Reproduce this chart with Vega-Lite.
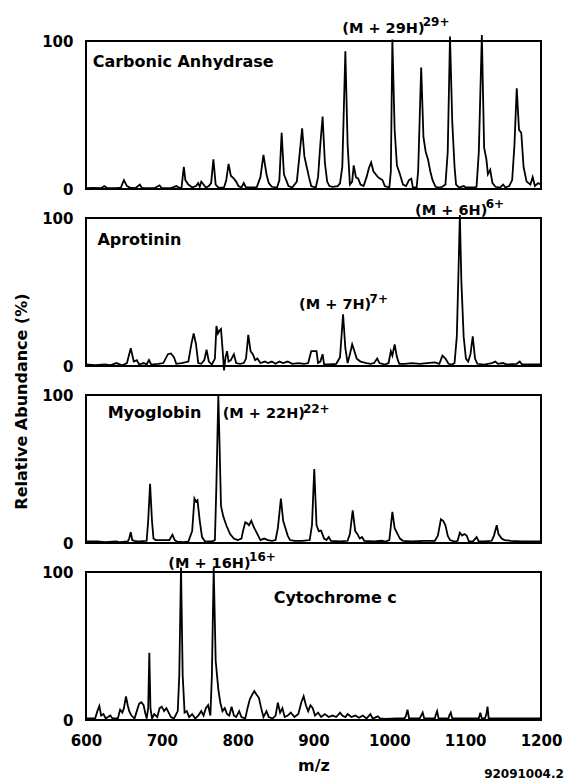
{
  "$schema": "https://vega.github.io/schema/vega-lite/v6.json",
  "padding": {"left": 12, "top": 15, "right": 0, "bottom": 0},
  "background": "white",
  "spacing": 29,
  "bounds": "flush",
  "datasets": {
    "ca": [
      {"mz":600,"ab":0.5},{"mz":610,"ab":0.8},{"mz":620,"ab":0.5},{"mz":624,"ab":2},{"mz":628,"ab":0.6},{"mz":640,"ab":0.5},{"mz":646,"ab":1},{"mz":650,"ab":6},{"mz":654,"ab":2},{"mz":658,"ab":1},{"mz":665,"ab":0.5},{"mz":671,"ab":3},{"mz":674,"ab":0.5},{"mz":690,"ab":0.5},{"mz":697,"ab":2.5},{"mz":700,"ab":0.5},{"mz":712,"ab":0.6},{"mz":719,"ab":2},{"mz":723,"ab":0.8},{"mz":726,"ab":1},{"mz":729,"ab":15},{"mz":731,"ab":6},{"mz":735,"ab":3},{"mz":740,"ab":1},{"mz":745,"ab":2},{"mz":748,"ab":4},{"mz":750,"ab":1.5},{"mz":752,"ab":5},{"mz":755,"ab":3},{"mz":758,"ab":1},{"mz":762,"ab":2},{"mz":765,"ab":4},{"mz":768,"ab":20},{"mz":771,"ab":3},{"mz":775,"ab":0.8},{"mz":782,"ab":1},{"mz":785,"ab":6},{"mz":788,"ab":17},{"mz":791,"ab":9},{"mz":795,"ab":7},{"mz":798,"ab":5},{"mz":801,"ab":2},{"mz":805,"ab":1},{"mz":808,"ab":4},{"mz":811,"ab":1},{"mz":825,"ab":1},{"mz":830,"ab":8},{"mz":834,"ab":23},{"mz":838,"ab":10},{"mz":841,"ab":4},{"mz":845,"ab":1.5},{"mz":852,"ab":1},{"mz":855,"ab":6},{"mz":858,"ab":38},{"mz":861,"ab":10},{"mz":864,"ab":6},{"mz":867,"ab":2},{"mz":872,"ab":1},{"mz":878,"ab":5},{"mz":881,"ab":20},{"mz":885,"ab":41},{"mz":888,"ab":22},{"mz":891,"ab":15},{"mz":894,"ab":8},{"mz":897,"ab":2},{"mz":903,"ab":1},{"mz":906,"ab":8},{"mz":909,"ab":30},{"mz":912,"ab":49},{"mz":915,"ab":18},{"mz":918,"ab":5},{"mz":921,"ab":2},{"mz":925,"ab":1.5},{"mz":932,"ab":2},{"mz":935,"ab":4},{"mz":938,"ab":15},{"mz":942,"ab":93},{"mz":945,"ab":30},{"mz":948,"ab":3},{"mz":951,"ab":5},{"mz":953,"ab":16},{"mz":956,"ab":8},{"mz":959,"ab":7},{"mz":962,"ab":3},{"mz":966,"ab":2},{"mz":970,"ab":8},{"mz":973,"ab":14},{"mz":976,"ab":18},{"mz":979,"ab":12},{"mz":982,"ab":10},{"mz":985,"ab":8},{"mz":988,"ab":7},{"mz":991,"ab":6},{"mz":994,"ab":2},{"mz":1000,"ab":1},{"mz":1002,"ab":12},{"mz":1004,"ab":101},{"mz":1007,"ab":40},{"mz":1010,"ab":16},{"mz":1014,"ab":10},{"mz":1018,"ab":3},{"mz":1022,"ab":2},{"mz":1026,"ab":6},{"mz":1029,"ab":7},{"mz":1031,"ab":1},{"mz":1036,"ab":1},{"mz":1038,"ab":12},{"mz":1042,"ab":82},{"mz":1045,"ab":35},{"mz":1048,"ab":25},{"mz":1051,"ab":20},{"mz":1054,"ab":12},{"mz":1057,"ab":6},{"mz":1061,"ab":1.5},{"mz":1066,"ab":1},{"mz":1070,"ab":1.5},{"mz":1074,"ab":3},{"mz":1077,"ab":25},{"mz":1080,"ab":103},{"mz":1083,"ab":45},{"mz":1086,"ab":15},{"mz":1088,"ab":3},{"mz":1092,"ab":1},{"mz":1098,"ab":2},{"mz":1101,"ab":1},{"mz":1110,"ab":1},{"mz":1115,"ab":1.5},{"mz":1118,"ab":25},{"mz":1122,"ab":104},{"mz":1125,"ab":28},{"mz":1128,"ab":20},{"mz":1130,"ab":10},{"mz":1133,"ab":13},{"mz":1136,"ab":4},{"mz":1140,"ab":1.5},{"mz":1146,"ab":1},{"mz":1150,"ab":3},{"mz":1153,"ab":1},{"mz":1158,"ab":2},{"mz":1162,"ab":6},{"mz":1165,"ab":30},{"mz":1168,"ab":68},{"mz":1171,"ab":40},{"mz":1174,"ab":38},{"mz":1177,"ab":15},{"mz":1181,"ab":5},{"mz":1186,"ab":3},{"mz":1189,"ab":8},{"mz":1192,"ab":2},{"mz":1196,"ab":4},{"mz":1200,"ab":3}
    ],
    "ap": [
      {"mz":600,"ab":1},{"mz":612,"ab":0.5},{"mz":625,"ab":1},{"mz":632,"ab":0.5},{"mz":640,"ab":2},{"mz":648,"ab":0.5},{"mz":654,"ab":2},{"mz":659,"ab":12},{"mz":663,"ab":3},{"mz":667,"ab":4},{"mz":670,"ab":1},{"mz":676,"ab":2},{"mz":680,"ab":1},{"mz":683,"ab":4},{"mz":686,"ab":1},{"mz":695,"ab":1.5},{"mz":702,"ab":2},{"mz":708,"ab":8},{"mz":712,"ab":8.5},{"mz":716,"ab":6},{"mz":719,"ab":1.5},{"mz":726,"ab":2},{"mz":735,"ab":3},{"mz":739,"ab":15},{"mz":742,"ab":22},{"mz":745,"ab":15},{"mz":748,"ab":2},{"mz":752,"ab":1.5},{"mz":756,"ab":4},{"mz":759,"ab":11},{"mz":762,"ab":3},{"mz":766,"ab":1},{"mz":770,"ab":5},{"mz":772,"ab":27},{"mz":774,"ab":22},{"mz":776,"ab":24},{"mz":778,"ab":25},{"mz":780,"ab":12},{"mz":782,"ab":-3},{"mz":784,"ab":6},{"mz":786,"ab":10},{"mz":788,"ab":3},{"mz":791,"ab":4},{"mz":795,"ab":8},{"mz":798,"ab":2},{"mz":803,"ab":1.5},{"mz":808,"ab":2},{"mz":811,"ab":5},{"mz":814,"ab":21},{"mz":817,"ab":10},{"mz":820,"ab":8},{"mz":823,"ab":4},{"mz":826,"ab":5},{"mz":830,"ab":2},{"mz":836,"ab":3},{"mz":840,"ab":2},{"mz":845,"ab":3},{"mz":850,"ab":1.5},{"mz":855,"ab":3},{"mz":860,"ab":2},{"mz":866,"ab":3},{"mz":872,"ab":1.5},{"mz":880,"ab":2},{"mz":888,"ab":1.5},{"mz":893,"ab":2},{"mz":897,"ab":10},{"mz":901,"ab":10},{"mz":904,"ab":10},{"mz":906,"ab":2},{"mz":909,"ab":3},{"mz":912,"ab":8},{"mz":914,"ab":1},{"mz":920,"ab":1},{"mz":930,"ab":1.5},{"mz":935,"ab":6},{"mz":939,"ab":35},{"mz":942,"ab":12},{"mz":945,"ab":2},{"mz":948,"ab":8},{"mz":951,"ab":14.6},{"mz":954,"ab":10},{"mz":957,"ab":5},{"mz":962,"ab":3},{"mz":966,"ab":2.5},{"mz":970,"ab":2},{"mz":975,"ab":1.5},{"mz":980,"ab":2},{"mz":984,"ab":5},{"mz":987,"ab":2},{"mz":994,"ab":1},{"mz":999,"ab":2},{"mz":1002,"ab":10},{"mz":1004,"ab":7},{"mz":1007,"ab":14.6},{"mz":1010,"ab":6},{"mz":1013,"ab":1.5},{"mz":1020,"ab":1.5},{"mz":1030,"ab":2},{"mz":1040,"ab":1.5},{"mz":1050,"ab":2},{"mz":1060,"ab":2.5},{"mz":1066,"ab":1.5},{"mz":1070,"ab":7},{"mz":1074,"ab":5},{"mz":1078,"ab":1.5},{"mz":1083,"ab":1},{"mz":1086,"ab":2},{"mz":1089,"ab":20},{"mz":1091,"ab":60},{"mz":1093,"ab":102},{"mz":1095,"ab":57},{"mz":1098,"ab":20},{"mz":1101,"ab":5},{"mz":1104,"ab":3},{"mz":1107,"ab":8},{"mz":1110,"ab":20},{"mz":1113,"ab":5},{"mz":1116,"ab":1.5},{"mz":1125,"ab":1},{"mz":1135,"ab":2},{"mz":1140,"ab":3},{"mz":1143,"ab":1.5},{"mz":1150,"ab":2},{"mz":1155,"ab":1},{"mz":1168,"ab":1.5},{"mz":1172,"ab":3},{"mz":1175,"ab":1},{"mz":1190,"ab":1},{"mz":1200,"ab":1}
    ],
    "my": [
      {"mz":600,"ab":1},{"mz":615,"ab":1},{"mz":625,"ab":0.5},{"mz":640,"ab":1},{"mz":645,"ab":0.5},{"mz":655,"ab":1},{"mz":657,"ab":3},{"mz":659,"ab":7.4},{"mz":661,"ab":2},{"mz":664,"ab":1.5},{"mz":670,"ab":1},{"mz":680,"ab":1.5},{"mz":682,"ab":15},{"mz":684.5,"ab":40},{"mz":687,"ab":15},{"mz":689,"ab":3},{"mz":692,"ab":2},{"mz":700,"ab":2},{"mz":705,"ab":2},{"mz":710,"ab":2},{"mz":714,"ab":5.6},{"mz":717,"ab":2},{"mz":720,"ab":1},{"mz":728,"ab":0.5},{"mz":735,"ab":1},{"mz":740,"ab":8},{"mz":743,"ab":30},{"mz":745,"ab":28},{"mz":747,"ab":29},{"mz":750,"ab":15},{"mz":753,"ab":4},{"mz":757,"ab":1},{"mz":766,"ab":1},{"mz":770,"ab":2},{"mz":772,"ab":40},{"mz":774.5,"ab":100},{"mz":776,"ab":69},{"mz":778,"ab":25},{"mz":781,"ab":18},{"mz":785,"ab":12},{"mz":790,"ab":6},{"mz":795,"ab":3},{"mz":800,"ab":2},{"mz":805,"ab":3},{"mz":807,"ab":8},{"mz":810,"ab":14},{"mz":812,"ab":13.5},{"mz":815,"ab":12},{"mz":818,"ab":15},{"mz":821,"ab":11},{"mz":824,"ab":8},{"mz":827,"ab":5},{"mz":830,"ab":2},{"mz":835,"ab":3},{"mz":840,"ab":2},{"mz":845,"ab":1.5},{"mz":850,"ab":2},{"mz":853,"ab":10},{"mz":857,"ab":30},{"mz":860,"ab":15},{"mz":863,"ab":10},{"mz":866,"ab":5},{"mz":869,"ab":2},{"mz":875,"ab":1.5},{"mz":885,"ab":1.5},{"mz":895,"ab":2},{"mz":898,"ab":12},{"mz":901,"ab":50},{"mz":904,"ab":12},{"mz":907,"ab":8},{"mz":910,"ab":8.4},{"mz":914,"ab":3},{"mz":917,"ab":2},{"mz":920,"ab":4},{"mz":923,"ab":1.5},{"mz":935,"ab":1},{"mz":945,"ab":1.5},{"mz":948,"ab":6},{"mz":951.7,"ab":22},{"mz":955,"ab":8},{"mz":958,"ab":6},{"mz":961,"ab":3},{"mz":964,"ab":4},{"mz":967,"ab":1.5},{"mz":980,"ab":1},{"mz":990,"ab":1.5},{"mz":995,"ab":1},{"mz":1000,"ab":2},{"mz":1004,"ab":21},{"mz":1007,"ab":10},{"mz":1010,"ab":7},{"mz":1014,"ab":3},{"mz":1018,"ab":1.5},{"mz":1030,"ab":1},{"mz":1045,"ab":1.5},{"mz":1060,"ab":1.5},{"mz":1064,"ab":5},{"mz":1068,"ab":16},{"mz":1071,"ab":15},{"mz":1074,"ab":12},{"mz":1077,"ab":5},{"mz":1080,"ab":2},{"mz":1086,"ab":1},{"mz":1090,"ab":1.5},{"mz":1093,"ab":7},{"mz":1096,"ab":5},{"mz":1099,"ab":6},{"mz":1102,"ab":5},{"mz":1105,"ab":1},{"mz":1110,"ab":1},{"mz":1115,"ab":4},{"mz":1118,"ab":1},{"mz":1125,"ab":1},{"mz":1135,"ab":1.5},{"mz":1138,"ab":5},{"mz":1141.6,"ab":12},{"mz":1144,"ab":6},{"mz":1148,"ab":3},{"mz":1152,"ab":2},{"mz":1160,"ab":1.5},{"mz":1175,"ab":1},{"mz":1190,"ab":1},{"mz":1200,"ab":1}
    ],
    "cy": [
      {"mz":600,"ab":1},{"mz":612,"ab":1},{"mz":615,"ab":6},{"mz":617.6,"ab":9.5},{"mz":620,"ab":3},{"mz":623,"ab":4},{"mz":626,"ab":1},{"mz":632,"ab":3},{"mz":635,"ab":1},{"mz":642,"ab":1},{"mz":645,"ab":7},{"mz":648,"ab":5},{"mz":650,"ab":8},{"mz":652.7,"ab":16},{"mz":655,"ab":10},{"mz":657,"ab":6},{"mz":660,"ab":3},{"mz":664,"ab":1},{"mz":667,"ab":6},{"mz":670,"ab":11},{"mz":673,"ab":12},{"mz":676,"ab":10},{"mz":678,"ab":5},{"mz":680,"ab":1},{"mz":682,"ab":8},{"mz":683.5,"ab":45.5},{"mz":685,"ab":8},{"mz":687,"ab":1},{"mz":690,"ab":4},{"mz":694,"ab":2},{"mz":697,"ab":8},{"mz":700,"ab":9},{"mz":703,"ab":6},{"mz":706,"ab":8},{"mz":709,"ab":5},{"mz":712,"ab":2},{"mz":716,"ab":1},{"mz":721,"ab":6},{"mz":723,"ab":30},{"mz":725.3,"ab":103},{"mz":727.5,"ab":30},{"mz":730,"ab":5},{"mz":733,"ab":6},{"mz":736,"ab":2},{"mz":740,"ab":4},{"mz":744,"ab":1},{"mz":748,"ab":3},{"mz":752,"ab":6},{"mz":755,"ab":3},{"mz":758,"ab":8},{"mz":761,"ab":10},{"mz":764,"ab":3},{"mz":766,"ab":30},{"mz":768.4,"ab":103},{"mz":771,"ab":40},{"mz":774.5,"ab":20.7},{"mz":777,"ab":12},{"mz":780,"ab":6},{"mz":783,"ab":8},{"mz":786,"ab":4},{"mz":789,"ab":3},{"mz":792,"ab":9},{"mz":795,"ab":3},{"mz":798,"ab":2},{"mz":802,"ab":6},{"mz":805,"ab":2},{"mz":810,"ab":1},{"mz":813,"ab":8},{"mz":816,"ab":14},{"mz":819,"ab":17},{"mz":822,"ab":19.6},{"mz":825,"ab":17},{"mz":828,"ab":15},{"mz":831,"ab":8},{"mz":834,"ab":2},{"mz":838,"ab":6},{"mz":841,"ab":2},{"mz":846,"ab":1},{"mz":850,"ab":3},{"mz":853,"ab":11.7},{"mz":856,"ab":5},{"mz":859,"ab":8},{"mz":862,"ab":2},{"mz":866,"ab":3},{"mz":870,"ab":5},{"mz":875,"ab":2},{"mz":880,"ab":4},{"mz":884,"ab":12},{"mz":887,"ab":16},{"mz":890,"ab":10},{"mz":893,"ab":6},{"mz":896,"ab":10},{"mz":899,"ab":8},{"mz":902,"ab":3},{"mz":906,"ab":5},{"mz":910,"ab":2},{"mz":915,"ab":4},{"mz":920,"ab":2},{"mz":925,"ab":3},{"mz":930,"ab":2},{"mz":935,"ab":5},{"mz":938,"ab":3},{"mz":942,"ab":2},{"mz":945,"ab":4},{"mz":950,"ab":2},{"mz":955,"ab":3},{"mz":960,"ab":1.5},{"mz":965,"ab":3},{"mz":970,"ab":1},{"mz":975,"ab":4},{"mz":978,"ab":1},{"mz":985,"ab":2.5},{"mz":988,"ab":1},{"mz":995,"ab":0.8},{"mz":1010,"ab":1},{"mz":1020,"ab":1},{"mz":1022,"ab":3},{"mz":1024,"ab":7},{"mz":1026,"ab":1},{"mz":1040,"ab":1},{"mz":1042,"ab":3},{"mz":1044,"ab":5},{"mz":1046,"ab":1},{"mz":1060,"ab":1},{"mz":1061,"ab":3},{"mz":1063,"ab":6},{"mz":1065,"ab":1},{"mz":1078,"ab":1},{"mz":1079,"ab":3},{"mz":1081,"ab":5},{"mz":1083,"ab":1},{"mz":1110,"ab":1},{"mz":1118,"ab":1},{"mz":1120,"ab":5},{"mz":1122,"ab":1},{"mz":1126,"ab":1},{"mz":1128,"ab":4},{"mz":1129.5,"ab":9},{"mz":1131,"ab":1},{"mz":1150,"ab":1},{"mz":1200,"ab":1}
    ],
    "labels": [
      {"p":"ca","kind":"name","t":"Carbonic Anhydrase","mz":608.8,"ab":82.6},
      {"p":"ca","kind":"ion","t":"(M + 29H)","mz":938,"ab":105.2},
      {"p":"ca","kind":"charge","t":"29+","mz":1044,"ab":110},
      {"p":"ap","kind":"name","t":"Aprotinin","mz":615,"ab":82},
      {"p":"ap","kind":"ion","t":"(M + 7H)","mz":881,"ab":38.6},
      {"p":"ap","kind":"charge","t":"7+","mz":974,"ab":42.7},
      {"p":"ap","kind":"ion","t":"(M + 6H)","mz":1034,"ab":102.2},
      {"p":"ap","kind":"charge","t":"6+","mz":1127,"ab":106.7},
      {"p":"my","kind":"name","t":"Myoglobin","mz":628.6,"ab":84.2},
      {"p":"my","kind":"ion","t":"(M + 22H)","mz":780.2,"ab":84.2},
      {"p":"my","kind":"charge","t":"22+","mz":886,"ab":88},
      {"p":"cy","kind":"name","t":"Cytochrome c","mz":847.5,"ab":79.3},
      {"p":"cy","kind":"ion","t":"(M + 16H)","mz":708.5,"ab":102.9},
      {"p":"cy","kind":"charge","t":"16+","mz":815,"ab":107.4},
      {"p":"cy","kind":"code","t":"92091004.2","mz":1125,"ab":-39.5}
    ]
  },
  "vconcat": [
    {
      "width": 455, "height": 148,
      "layer": [
        {"data": {"name": "ca"}, "mark": {"type": "line", "color": "black", "strokeWidth": 1.8},
         "encoding": {"x": {"field": "mz", "type": "quantitative", "scale": {"domain": [600, 1200], "nice": false}, "axis": null},
                      "y": {"field": "ab", "type": "quantitative", "scale": {"domain": [0, 100], "nice": false}, "axis": {"values": [0, 100], "title": null}}}},
        {"data": {"name": "labels"}, "transform": [{"filter": "datum.p == 'ca' && datum.kind == 'name'"}],
         "mark": {"type": "text", "align": "left", "baseline": "alphabetic", "fontWeight": "bold", "fontSize": 16, "color": "black"},
         "encoding": {"x": {"field": "mz", "type": "quantitative"}, "y": {"field": "ab", "type": "quantitative"}, "text": {"field": "t"}}},
        {"data": {"name": "labels"}, "transform": [{"filter": "datum.p == 'ca' && datum.kind == 'ion'"}],
         "mark": {"type": "text", "align": "left", "baseline": "alphabetic", "fontWeight": "bold", "fontSize": 14.5, "color": "black"},
         "encoding": {"x": {"field": "mz", "type": "quantitative"}, "y": {"field": "ab", "type": "quantitative"}, "text": {"field": "t"}}},
        {"data": {"name": "labels"}, "transform": [{"filter": "datum.p == 'ca' && datum.kind == 'charge'"}],
         "mark": {"type": "text", "align": "left", "baseline": "alphabetic", "fontWeight": "bold", "fontSize": 12, "color": "black"},
         "encoding": {"x": {"field": "mz", "type": "quantitative"}, "y": {"field": "ab", "type": "quantitative"}, "text": {"field": "t"}}}
      ]
    },
    {
      "width": 455, "height": 148,
      "layer": [
        {"data": {"name": "ap"}, "mark": {"type": "line", "color": "black", "strokeWidth": 1.8},
         "encoding": {"x": {"field": "mz", "type": "quantitative", "scale": {"domain": [600, 1200], "nice": false}, "axis": null},
                      "y": {"field": "ab", "type": "quantitative", "scale": {"domain": [0, 100], "nice": false}, "axis": {"values": [0, 100], "title": "Relative Abundance (%)", "titleY": 183}}}},
        {"data": {"name": "labels"}, "transform": [{"filter": "datum.p == 'ap' && datum.kind == 'name'"}],
         "mark": {"type": "text", "align": "left", "baseline": "alphabetic", "fontWeight": "bold", "fontSize": 16, "color": "black"},
         "encoding": {"x": {"field": "mz", "type": "quantitative"}, "y": {"field": "ab", "type": "quantitative"}, "text": {"field": "t"}}},
        {"data": {"name": "labels"}, "transform": [{"filter": "datum.p == 'ap' && datum.kind == 'ion'"}],
         "mark": {"type": "text", "align": "left", "baseline": "alphabetic", "fontWeight": "bold", "fontSize": 14.5, "color": "black"},
         "encoding": {"x": {"field": "mz", "type": "quantitative"}, "y": {"field": "ab", "type": "quantitative"}, "text": {"field": "t"}}},
        {"data": {"name": "labels"}, "transform": [{"filter": "datum.p == 'ap' && datum.kind == 'charge'"}],
         "mark": {"type": "text", "align": "left", "baseline": "alphabetic", "fontWeight": "bold", "fontSize": 12, "color": "black"},
         "encoding": {"x": {"field": "mz", "type": "quantitative"}, "y": {"field": "ab", "type": "quantitative"}, "text": {"field": "t"}}}
      ]
    },
    {
      "width": 455, "height": 148,
      "layer": [
        {"data": {"name": "my"}, "mark": {"type": "line", "color": "black", "strokeWidth": 1.8},
         "encoding": {"x": {"field": "mz", "type": "quantitative", "scale": {"domain": [600, 1200], "nice": false}, "axis": null},
                      "y": {"field": "ab", "type": "quantitative", "scale": {"domain": [0, 100], "nice": false}, "axis": {"values": [0, 100], "title": null}}}},
        {"data": {"name": "labels"}, "transform": [{"filter": "datum.p == 'my' && datum.kind == 'name'"}],
         "mark": {"type": "text", "align": "left", "baseline": "alphabetic", "fontWeight": "bold", "fontSize": 16, "color": "black"},
         "encoding": {"x": {"field": "mz", "type": "quantitative"}, "y": {"field": "ab", "type": "quantitative"}, "text": {"field": "t"}}},
        {"data": {"name": "labels"}, "transform": [{"filter": "datum.p == 'my' && datum.kind == 'ion'"}],
         "mark": {"type": "text", "align": "left", "baseline": "alphabetic", "fontWeight": "bold", "fontSize": 14.5, "color": "black"},
         "encoding": {"x": {"field": "mz", "type": "quantitative"}, "y": {"field": "ab", "type": "quantitative"}, "text": {"field": "t"}}},
        {"data": {"name": "labels"}, "transform": [{"filter": "datum.p == 'my' && datum.kind == 'charge'"}],
         "mark": {"type": "text", "align": "left", "baseline": "alphabetic", "fontWeight": "bold", "fontSize": 12, "color": "black"},
         "encoding": {"x": {"field": "mz", "type": "quantitative"}, "y": {"field": "ab", "type": "quantitative"}, "text": {"field": "t"}}}
      ]
    },
    {
      "width": 455, "height": 148,
      "layer": [
        {"data": {"name": "cy"}, "mark": {"type": "line", "color": "black", "strokeWidth": 1.8},
         "encoding": {"x": {"field": "mz", "type": "quantitative", "scale": {"domain": [600, 1200], "nice": false},
                            "axis": {"values": [600, 700, 800, 900, 1000, 1100, 1200], "format": "d", "labelFlush": false, "labelPadding": 13, "title": "m/z", "titleFontSize": 16, "titlePadding": 9}},
                      "y": {"field": "ab", "type": "quantitative", "scale": {"domain": [0, 100], "nice": false}, "axis": {"values": [0, 100], "title": null}}}},
        {"data": {"name": "labels"}, "transform": [{"filter": "datum.p == 'cy' && datum.kind == 'name'"}],
         "mark": {"type": "text", "align": "left", "baseline": "alphabetic", "fontWeight": "bold", "fontSize": 16, "color": "black"},
         "encoding": {"x": {"field": "mz", "type": "quantitative"}, "y": {"field": "ab", "type": "quantitative"}, "text": {"field": "t"}}},
        {"data": {"name": "labels"}, "transform": [{"filter": "datum.p == 'cy' && datum.kind == 'ion'"}],
         "mark": {"type": "text", "align": "left", "baseline": "alphabetic", "fontWeight": "bold", "fontSize": 14.5, "color": "black"},
         "encoding": {"x": {"field": "mz", "type": "quantitative"}, "y": {"field": "ab", "type": "quantitative"}, "text": {"field": "t"}}},
        {"data": {"name": "labels"}, "transform": [{"filter": "datum.p == 'cy' && (datum.kind == 'charge' || datum.kind == 'code')"}],
         "mark": {"type": "text", "align": "left", "baseline": "alphabetic", "fontWeight": "bold", "fontSize": 12, "color": "black"},
         "encoding": {"x": {"field": "mz", "type": "quantitative"}, "y": {"field": "ab", "type": "quantitative"}, "text": {"field": "t"}}}
      ]
    }
  ],
  "config": {
    "font": "DejaVu Sans",
    "view": {"stroke": "black", "strokeWidth": 2},
    "text": {"font": "DejaVu Sans"},
    "axis": {
      "labelFont": "DejaVu Sans", "labelFontWeight": "bold", "labelFontSize": 15, "labelColor": "black",
      "titleFont": "DejaVu Sans", "titleFontWeight": "bold", "titleFontSize": 16, "titleColor": "black",
      "ticks": false, "tickSize": 0, "domain": false, "grid": false
    },
    "axisY": {"labelPadding": 13, "titlePadding": 12}
  }
}
